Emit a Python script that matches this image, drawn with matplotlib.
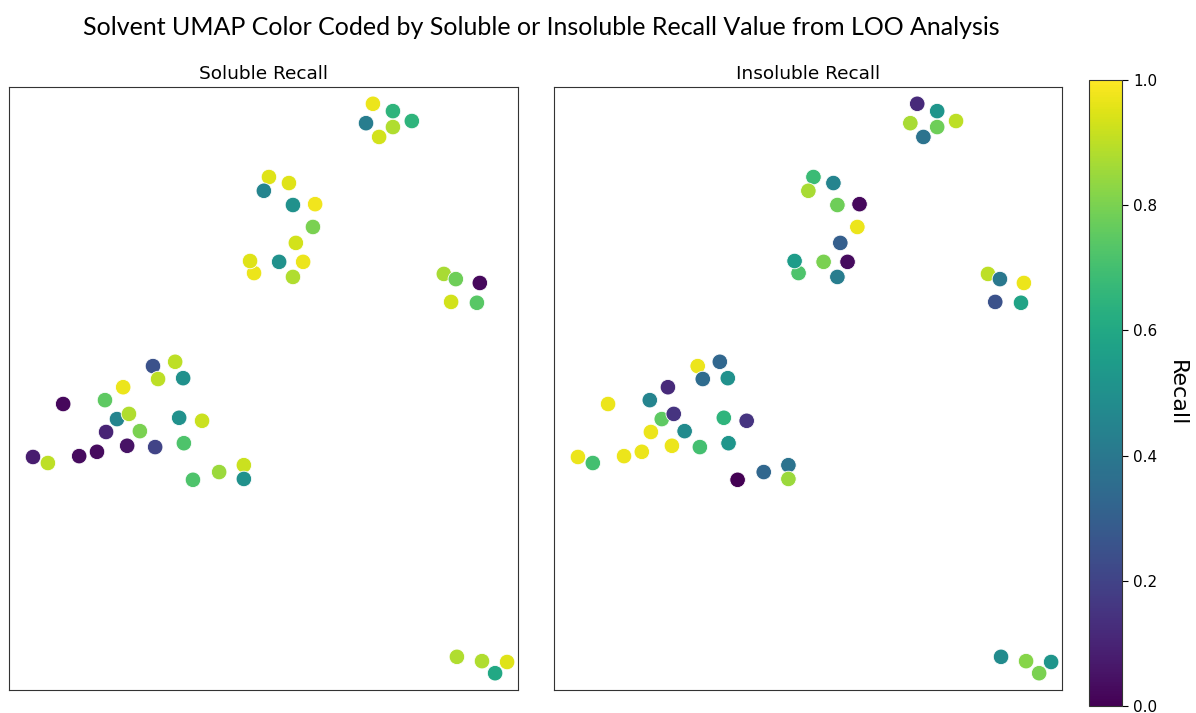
import os
import numpy as np
import matplotlib
matplotlib.use("Agg")
import matplotlib.pyplot as plt
from matplotlib import font_manager

# use the DejaVu Sans file bundled with matplotlib
dv_path = os.path.join(matplotlib.get_data_path(), "fonts", "ttf", "DejaVuSans.ttf")
font_manager.fontManager.addfont(dv_path)
dv_name = font_manager.FontProperties(fname=dv_path).get_name()
plt.rcParams['font.family'] = [dv_name]

# UMAP coordinates of the solvents (same embedding in both panels)
umap_1 = [1.96, 2.57, 2.10, 2.79, 1.14, -0.51, 0.64, 0.97, 1.30, 2.68, 3.31, 0.67,
          1.60, -1.34, -0.93, -0.07, 0.42, 1.25, 2.02, 2.81, 3.06, 3.78, 4.46, 4.46,
          5.15, 5.01, 5.70, 5.81, 6.42, 6.36, 5.89, 4.74, 4.63, 5.43, 6.09, 5.81,
          8.01, 8.56, 7.82, 9.08, 8.56, 8.18,
          9.96, 10.29, 10.95, 10.16, 10.87,
          10.32, 11.01, 11.70, 11.37]
umap_2 = [3.52, 3.62, 3.22, 3.24, 3.03, 2.64, 2.73, 2.29, 2.41, 2.32, 2.25, 1.99,
          2.01, 1.41, 1.27, 1.43, 1.53, 1.67, 1.64, 1.73, 0.88, 1.06, 1.22, 0.90,
          7.91, 7.59, 7.77, 7.26, 7.28, 6.75, 6.38, 5.68, 5.96, 5.94, 5.94, 5.59,
          9.61, 9.44, 9.16, 9.21, 9.07, 8.84,
          5.66, 5.54, 5.45, 5.01, 4.99,
          -3.23, -3.33, -3.35, -3.61]

# LOO recall per solvent
soluble_recall = [0.25, 0.90, 0.90, 0.50, 0.97, 0.02, 0.75, 0.45, 0.88, 0.50, 0.92, 0.10,
                  0.80, 0.08, 0.90, 0.03, 0.03, 0.05, 0.20, 0.72, 0.72, 0.85, 0.92, 0.50,
                  0.95, 0.45, 0.95, 0.50, 0.98, 0.80, 0.93, 0.97, 0.95, 0.50, 0.97, 0.88,
                  0.97, 0.65, 0.42, 0.65, 0.88, 0.93,
                  0.87, 0.78, 0.02, 0.93, 0.74,
                  0.88, 0.88, 0.95, 0.60]
insoluble_recall = [0.97, 0.33, 0.35, 0.50, 0.12, 0.97, 0.45, 0.75, 0.15, 0.65, 0.15, 0.97,
                    0.48, 0.97, 0.70, 0.97, 0.97, 0.97, 0.70, 0.52, 0.00, 0.33, 0.38, 0.85,
                    0.68, 0.87, 0.45, 0.78, 0.02, 0.97, 0.30, 0.72, 0.55, 0.80, 0.03, 0.42,
                    0.12, 0.52, 0.87, 0.90, 0.78, 0.38,
                    0.90, 0.40, 0.97, 0.25, 0.58,
                    0.48, 0.82, 0.52, 0.80]

panel_titles = ["Soluble Recall", "Insoluble Recall"]

fig = plt.figure(figsize=(11.96, 7.13), dpi=100)
ax1 = fig.add_axes([9/1196, 23/713, 509/1196, 603/713])
ax2 = fig.add_axes([554/1196, 23/713, 508/1196, 603/713])
cax = fig.add_axes([1089/1196, 7/713, 33/1196, 626/713])

for ax, vals, ttl in zip([ax1, ax2], [soluble_recall, insoluble_recall], panel_titles):
    sc = ax.scatter(umap_1, umap_2, c=vals, cmap="viridis", vmin=0, vmax=1,
                    s=125, edgecolors="white", linewidths=0.6)
    ax.set_xlim(-2, 12)
    ax.set_ylim(-4, 10)
    ax.set_xticks([])
    ax.set_yticks([])
    for sp in ax.spines.values():
        sp.set_color("#333333")
    ax.set_title(ttl, fontsize=13.3, pad=6)

cb = fig.colorbar(sc, cax=cax)
cb.set_ticks([0.0, 0.2, 0.4, 0.6, 0.8, 1.0])
cb.ax.tick_params(labelsize=11, length=4, pad=4)
cb.outline.set_edgecolor("#333333")
cb.set_label("Recall", rotation=270, fontsize=16, labelpad=21)

fig.text(0.453, 0.962, "Solvent UMAP Color Coded by Soluble or Insoluble Recall Value from LOO Analysis",
         ha="center", va="center", fontsize=18, family="Lato")

fig.savefig("out.png", dpi=100)
